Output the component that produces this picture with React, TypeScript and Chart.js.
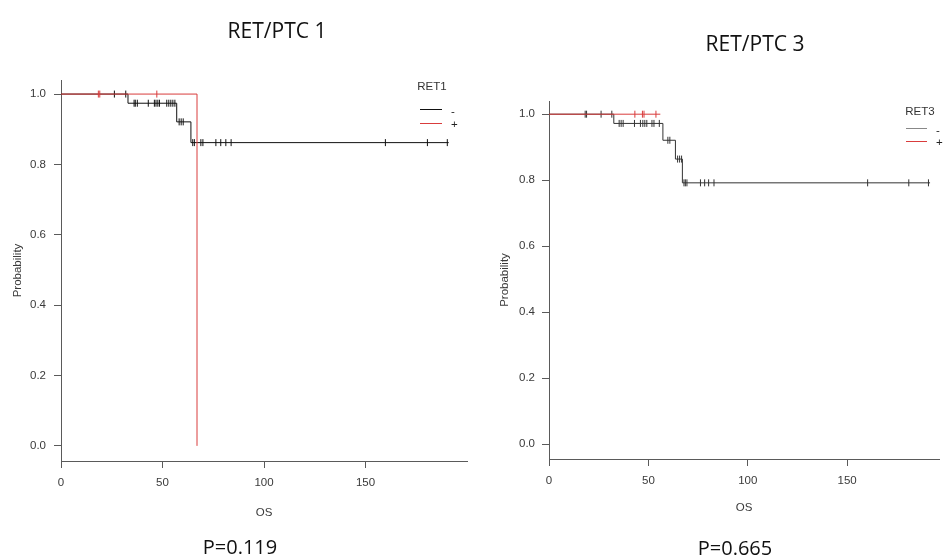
import React, { useEffect, useRef } from "react";
import { Chart, registerables } from "chart.js";

Chart.register(...registerables);

// ---- shared axis data ----
const xTickValues = [0, 50, 100, 150];
const xTickLabels = ["0", "50", "100", "150"];
const yTickValues = [0, 0.2, 0.4, 0.6, 0.8, 1.0];
const yTickLabels = ["0.0", "0.2", "0.4", "0.6", "0.8", "1.0"];
const xAxisTitle = "OS";
const yAxisTitle = "Probability";
const groupLabels = ["-", "+"];

// ---- RET/PTC 1 ----
const ret1Title = "RET/PTC 1";
const ret1P = "P=0.119";
const ret1LegendTitle = "RET1";
const ret1NegTimes = [0, 33, 57, 64, 191];
const ret1NegSurv = [1, 0.974, 0.921, 0.862, 0.862];
const ret1NegCensor = [
  26.3, 31.9, 36, 36.6, 37.6, 43, 46, 46.8, 47.7, 48.5, 52.1, 53.1, 54.1, 55.1, 56.1,
  58.2, 59.2, 60.2, 64.9, 65.7, 68.9, 69.9, 76.3, 78.7, 81.2, 83.8, 159.8, 180.5, 190.3,
];
const ret1PosTimes = [0, 67];
const ret1PosSurv = [1, 0];
const ret1PosCensor = [18.4, 19.1, 47.2];

// ---- RET/PTC 3 ----
const ret3Title = "RET/PTC 3";
const ret3P = "P=0.665";
const ret3LegendTitle = "RET3";
const ret3NegTimes = [0, 32.6, 57.3, 63.6, 67.1, 191.7];
const ret3NegSurv = [1, 0.972, 0.921, 0.864, 0.792, 0.792];
const ret3NegCensor = [
  18.2, 18.9, 26.2, 31.6, 35.3, 36.3, 37.3, 43, 46, 47.2, 48.2, 49.2, 51.8, 52.8, 55.5,
  59.8, 60.8, 64.7, 65.7, 66.7, 67.9, 68.6, 69.4, 76.2, 78.3, 80.3, 83, 160.3, 181, 190.9,
];
const ret3PosTimes = [0, 56];
const ret3PosSurv = [1, 1];
const ret3PosCensor = [43.2, 47, 47.8, 53.8];

const RED = "#d93c3c";
const AXIS_COLOR = "#5a5a5a";
const TEXT_COLOR = "#3a3a3a";
const AXIS_FONT = { family: '"Liberation Sans", Arial, sans-serif', size: 11.5 };

function survAt(times: number[], surv: number[], t: number) {
  let s = surv[0];
  for (let i = 0; i < times.length; i++) {
    if (times[i] <= t) s = surv[i];
  }
  return s;
}

type Cfg = {
  width: number;
  height: number;
  areaLeft: number;
  areaTop: number;
  areaBottom: number;
  padRight: number;
  xMax: number;
  yMin: number;
  yMax: number;
  yTitlePad: number;
  xTitlePad: number;
  yTickPad: number;
  negColor: string;
  legendLineColor: string;
  legend: { title: string; cx: number; ty: number; x1: number; x2: number; y1: number; y2: number; tx: number };
  neg: { t: number[]; s: number[]; c: number[] };
  pos: { t: number[]; s: number[]; c: number[] };
};

function KMChart({ cfg }: { cfg: Cfg }) {
  const ref = useRef<HTMLCanvasElement | null>(null);
  useEffect(() => {
    if (!ref.current) return;
    const toPts = (t: number[], s: number[]) => t.map((x, i) => ({ x, y: s[i] }));
    const toCens = (c: number[], t: number[], s: number[]) => c.map((x) => ({ x, y: survAt(t, s, x) }));
    const legendPlugin = {
      id: "kmLegend",
      afterDraw(chart: any) {
        const ctx = chart.ctx as CanvasRenderingContext2D;
        const L = cfg.legend;
        ctx.save();
        ctx.font = '11.5px "Liberation Sans", Arial, sans-serif';
        ctx.fillStyle = "#333";
        ctx.textAlign = "center";
        ctx.textBaseline = "middle";
        ctx.fillText(L.title, L.cx, L.ty);
        ctx.lineWidth = 1;
        ctx.strokeStyle = cfg.legendLineColor;
        ctx.beginPath();
        ctx.moveTo(L.x1, L.y1 + 0.5);
        ctx.lineTo(L.x2, L.y1 + 0.5);
        ctx.stroke();
        ctx.strokeStyle = RED;
        ctx.beginPath();
        ctx.moveTo(L.x1, L.y2 + 0.5);
        ctx.lineTo(L.x2, L.y2 + 0.5);
        ctx.stroke();
        ctx.fillStyle = "#222";
        ctx.textAlign = "left";
        ctx.fillText(groupLabels[0], L.tx, L.y1 + 3);
        ctx.fillText(groupLabels[1], L.tx, L.y2 + 2);
        ctx.restore();
      },
    };
    const chart = new Chart(ref.current, {
      type: "scatter",
      data: {
        datasets: [
          {
            label: groupLabels[1] + " censor",
            data: toCens(cfg.pos.c, cfg.pos.t, cfg.pos.s),
            showLine: false,
            pointStyle: "line",
            rotation: 90,
            pointRadius: 3.5,
            pointBorderWidth: 1,
            borderColor: RED,
            backgroundColor: RED,
          },
          {
            label: groupLabels[1],
            data: toPts(cfg.pos.t, cfg.pos.s),
            showLine: true,
            stepped: "before",
            borderColor: RED,
            borderWidth: 1,
            pointRadius: 0,
          },
          {
            label: groupLabels[0] + " censor",
            data: toCens(cfg.neg.c, cfg.neg.t, cfg.neg.s),
            showLine: false,
            pointStyle: "line",
            rotation: 90,
            pointRadius: 3.5,
            pointBorderWidth: 1,
            borderColor: cfg.negColor,
            backgroundColor: cfg.negColor,
          },
          {
            label: groupLabels[0],
            data: toPts(cfg.neg.t, cfg.neg.s),
            showLine: true,
            stepped: "before",
            borderColor: cfg.negColor,
            borderWidth: 1,
            pointRadius: 0,
          },
        ] as any,
      },
      options: {
        responsive: false,
        maintainAspectRatio: false,
        animation: false,
        layout: { padding: { left: 0, right: cfg.padRight, top: cfg.areaTop, bottom: 0 } },
        plugins: { legend: { display: false }, tooltip: { enabled: false }, title: { display: false } },
        scales: {
          x: {
            type: "linear",
            min: 0,
            max: cfg.xMax,
            afterFit: (s: any) => {
              s.height = cfg.height - cfg.areaBottom;
            },
            afterBuildTicks: (s: any) => {
              s.ticks = xTickValues.map((v) => ({ value: v }));
            },
            ticks: {
              autoSkip: false,
              maxRotation: 0,
              padding: 8,
              color: TEXT_COLOR,
              font: AXIS_FONT,
              callback: (v: any) => {
                const i = xTickValues.indexOf(Number(v));
                return i >= 0 ? xTickLabels[i] : "";
              },
            },
            grid: { display: true, drawOnChartArea: false, drawTicks: true, tickLength: 7, color: AXIS_COLOR },
            border: { display: true, color: AXIS_COLOR, width: 1 },
            title: { display: true, text: xAxisTitle, color: TEXT_COLOR, font: AXIS_FONT, padding: { top: 0, bottom: cfg.xTitlePad } },
          },
          y: {
            type: "linear",
            min: cfg.yMin,
            max: cfg.yMax,
            afterFit: (s: any) => {
              s.width = cfg.areaLeft;
            },
            afterBuildTicks: (s: any) => {
              s.ticks = yTickValues.map((v) => ({ value: v }));
            },
            ticks: {
              autoSkip: false,
              padding: cfg.yTickPad,
              color: TEXT_COLOR,
              font: AXIS_FONT,
              callback: (v: any) => {
                const i = yTickValues.findIndex((t) => Math.abs(t - Number(v)) < 1e-9);
                return i >= 0 ? yTickLabels[i] : "";
              },
            },
            grid: { display: true, drawOnChartArea: false, drawTicks: true, tickLength: 7, color: AXIS_COLOR },
            border: { display: true, color: AXIS_COLOR, width: 1 },
            title: { display: true, text: yAxisTitle, color: TEXT_COLOR, font: AXIS_FONT, padding: { top: cfg.yTitlePad, bottom: 0 } },
          },
        },
      } as any,
      plugins: [legendPlugin],
    });
    return () => chart.destroy();
  }, [cfg]);
  return <canvas ref={ref} width={cfg.width} height={cfg.height} style={{ width: cfg.width, height: cfg.height, display: "block" }} />;
}

const leftCfg: Cfg = {
  width: 472,
  height: 559,
  areaLeft: 61,
  areaTop: 80,
  areaBottom: 461,
  padRight: 5,
  xMax: 200,
  yMin: -0.043,
  yMax: 1.04,
  yTitlePad: 11,
  xTitlePad: 39,
  yTickPad: 8,
  negColor: "#111",
  legendLineColor: "#111",
  legend: { title: ret1LegendTitle, cx: 432, ty: 87, x1: 420, x2: 442, y1: 109, y2: 123, tx: 451 },
  neg: { t: ret1NegTimes, s: ret1NegSurv, c: ret1NegCensor },
  pos: { t: ret1PosTimes, s: ret1PosSurv, c: ret1PosCensor },
};

const rightCfg: Cfg = {
  width: 472,
  height: 559,
  areaLeft: 77,
  areaTop: 101,
  areaBottom: 459,
  padRight: 0,
  xMax: 196.2,
  yMin: -0.045,
  yMax: 1.04,
  yTitlePad: 26,
  xTitlePad: 44,
  yTickPad: 7,
  negColor: "#333",
  legendLineColor: "#888",
  legend: { title: ret3LegendTitle, cx: 448, ty: 112, x1: 434, x2: 455, y1: 128, y2: 141, tx: 464 },
  neg: { t: ret3NegTimes, s: ret3NegSurv, c: ret3NegCensor },
  pos: { t: ret3PosTimes, s: ret3PosSurv, c: ret3PosCensor },
};

const textStyle: React.CSSProperties = {
  position: "absolute",
  transform: "translate(-50%, -50%)",
  fontFamily: '"Open Sans", "Noto Sans", sans-serif',
  fontSize: 21,
  color: "#111",
  whiteSpace: "nowrap",
};

const pStyle: React.CSSProperties = { ...textStyle, fontSize: 20 };

export default function App() {
  return (
    <div style={{ position: "fixed", left: 0, top: 0, width: 944, height: 559, background: "#fff", overflow: "hidden" }}>
      <div style={{ position: "absolute", left: 0, top: 0 }}>
        <KMChart cfg={leftCfg} />
      </div>
      <div style={{ position: "absolute", left: 472, top: 0 }}>
        <KMChart cfg={rightCfg} />
      </div>
      <div style={{ ...textStyle, left: 277, top: 30 }}>{ret1Title}</div>
      <div style={{ ...textStyle, left: 755, top: 43 }}>{ret3Title}</div>
      <div style={{ ...pStyle, left: 240, top: 546 }}>{ret1P}</div>
      <div style={{ ...pStyle, left: 735, top: 547 }}>{ret3P}</div>
    </div>
  );
}
